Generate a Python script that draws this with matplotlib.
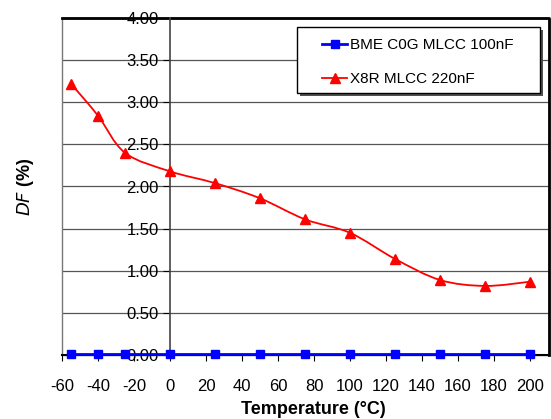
import matplotlib.pyplot as plt
from matplotlib.path import Path
from matplotlib.patches import PathPatch, Rectangle
import numpy as np

plt.rcParams['font.family'] = ['Liberation Sans', 'DejaVu Sans']
plt.rcParams['axes.unicode_minus'] = False

# data
temps = [-55, -40, -25, 0, 25, 50, 75, 100, 125, 150, 175, 200]
df_c0g = [0.01, 0.01, 0.01, 0.01, 0.01, 0.01, 0.01, 0.01, 0.01, 0.01, 0.01, 0.01]
df_x8r = [3.22, 2.84, 2.40, 2.18, 2.04, 1.86, 1.61, 1.45, 1.14, 0.89, 0.82, 0.87]

xticks = list(range(-60, 201, 20))
yticks = [0, 0.5, 1.0, 1.5, 2.0, 2.5, 3.0, 3.5, 4.0]

W, H = 551, 419


def smooth_path(x, y, t=1/6):
    # bezier path through the points (like excel's smoothed line)
    x = np.asarray(x, float)
    y = np.asarray(y, float)
    verts = [(x[0], y[0])]
    codes = [Path.MOVETO]
    n = len(x)
    for i in range(n - 1):
        p0 = (x[max(i - 1, 0)], y[max(i - 1, 0)])
        p1 = (x[i], y[i])
        p2 = (x[i + 1], y[i + 1])
        p3 = (x[min(i + 2, n - 1)], y[min(i + 2, n - 1)])
        c1 = (p1[0] + (p2[0] - p0[0]) * t, p1[1] + (p2[1] - p0[1]) * t)
        c2 = (p2[0] - (p3[0] - p1[0]) * t, p2[1] - (p3[1] - p1[1]) * t)
        verts += [c1, c2, p2]
        codes += [Path.CURVE4] * 3
    return Path(verts, codes)


fig = plt.figure(figsize=(W / 100, H / 100), dpi=100)
ax = fig.add_axes([62/W, 1 - 355/H, 487/W, 337/H])

ax.set_xlim(-60, 210.5)
ax.set_ylim(0, 4)

for v in yticks[1:]:
    ax.axhline(v, color='#555555', lw=0.9, zorder=1)

# blue series
ax.plot(temps, df_c0g, color='blue', lw=2, marker='s', ms=6,
        label='BME C0G MLCC 100nF', zorder=4, clip_on=False)

# red series: smoothed line + markers
ax.add_patch(PathPatch(smooth_path(temps, df_x8r), fill=False,
                       edgecolor='red', lw=1.3, zorder=3))
ax.plot(temps, df_x8r, color='red', lw=0, marker='^', ms=7, zorder=4)
ax.plot([], [], color='red', lw=1.3, marker='^', ms=7, label='X8R MLCC 220nF')

# y axis sits at x = 0
for s in ['top', 'right', 'bottom']:
    ax.spines[s].set_visible(False)
ax.spines['left'].set_position(('data', 0))
ax.spines['left'].set_color('#444444')
ax.spines['left'].set_linewidth(1.2)
ax.spines['left'].set_zorder(2)

# plot area frame
ax.add_patch(Rectangle((0, 0), 1, 1, transform=ax.transAxes, fill=False,
                       edgecolor='#777777', lw=1.0, zorder=2, clip_on=False))
ax.plot([0, 1, 1], [1, 1, 0], transform=ax.transAxes, color='black',
        lw=2, zorder=2, clip_on=False)
ax.plot([0, 1], [0, 0], transform=ax.transAxes, color='black',
        lw=1.5, zorder=2, clip_on=False)

ax.set_xticks(xticks)
ax.set_yticks(yticks)
ax.set_yticklabels(['%.2f' % v for v in yticks])
ax.tick_params(axis='x', direction='out', length=4, pad=13, labelsize=12)
ax.tick_params(axis='y', direction='out', length=5, pad=3, labelsize=12)
for lbl in ax.get_yticklabels():
    lbl.set_zorder(6)

fig.text(313/W, 1 - 409/H, 'Temperature (\u00b0C)', ha='center', va='center',
         fontsize=13, fontweight='bold')
fig.text(26/W, 1 - 187/H, r'$\bf\it{DF}$' + ' (%)', rotation=90, ha='center',
         va='center', fontsize=13, fontweight='bold')

# legend box with shadow, entries drawn by a frameless legend
fig.patches.append(Rectangle((300/W, 1 - 96/H), 243/W, 66/H, transform=fig.transFigure,
                             facecolor='#505050', edgecolor='none', zorder=8))
fig.patches.append(Rectangle((297/W, 1 - 93/H), 243/W, 66/H, transform=fig.transFigure,
                             facecolor='white', edgecolor='black', lw=1.0, zorder=9))
handles, labels = ax.get_legend_handles_labels()
leg = fig.legend(handles, labels, loc='upper left', bbox_to_anchor=(322/W, 1 - 38/H),
                 bbox_transform=fig.transFigure, frameon=False, fontsize=11,
                 handlelength=1.65, labelspacing=1.32, borderpad=0,
                 handletextpad=0.15, borderaxespad=0)
leg.set_zorder(10)

fig.savefig('out.png', dpi=100)
